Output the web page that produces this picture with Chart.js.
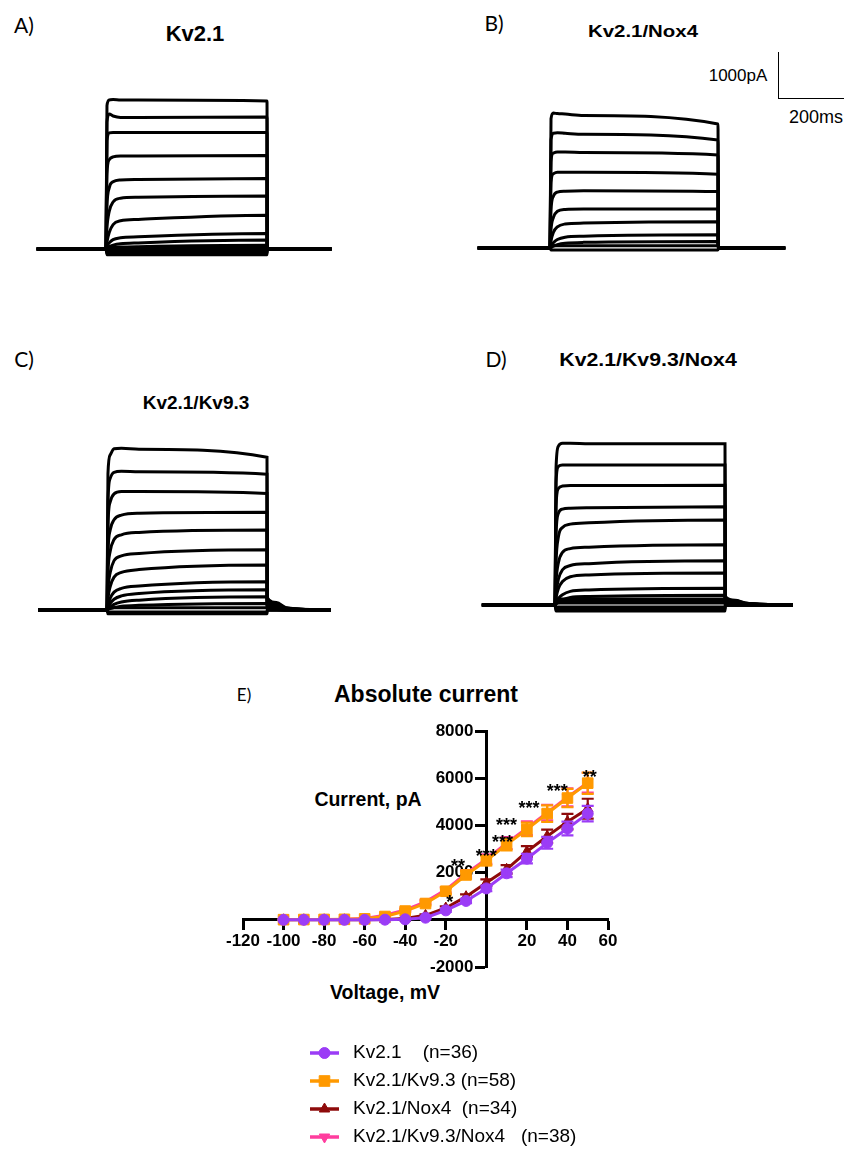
<!DOCTYPE html>
<html>
<head>
<meta charset="utf-8">
<title>Kv2.1 currents</title>
<script src="https://cdn.jsdelivr.net/npm/chart.js@4.4.1/dist/chart.umd.min.js"></script>
<style>
  html, body { margin: 0; padding: 0; background: #fff; }
  #fig { position: relative; width: 844px; height: 1149px; overflow: hidden;
         font-family: "Liberation Sans", Arial, sans-serif; color: #000; }
  #fig canvas { position: absolute; }
  .t { position: absolute; line-height: 1; white-space: pre; transform: translate(-50%, -50%); }
  .letter { font-family: Lato, "Open Sans", sans-serif; font-size: 21px; }
  .b { font-weight: bold; }
  #bar { position: absolute; left: 778px; top: 52px; width: 70px; height: 46px;
         border-left: 1.5px solid #000; border-bottom: 1.5px solid #000; }
</style>
</head>
<body>
<div id="fig">
  <div class="t letter" style="left:24px;top:24px">A)</div>
  <div class="t letter" style="left:494px;top:22px">B)</div>
  <div class="t letter" style="left:24px;top:358px">C)</div>
  <div class="t letter" style="left:496px;top:358px">D)</div>
  <div class="t letter" style="left:244px;top:694px;font-size:17px">E)</div>

  <div class="t b" style="left:195px;top:34px;font-size:22px">Kv2.1</div>
  <div class="t b" style="left:643px;top:31px;font-size:17px;transform:translate(-50%,-50%) scaleX(1.2)">Kv2.1/Nox4</div>
  <div class="t b" style="left:196px;top:402px;font-size:19px">Kv2.1/Kv9.3</div>
  <div class="t b" style="left:648px;top:359px;font-size:19px;transform:translate(-50%,-50%) scaleX(1.12)">Kv2.1/Kv9.3/Nox4</div>

  <div id="bar"></div>
  <div class="t" style="left:738px;top:75px;font-size:17px">1000pA</div>
  <div class="t" style="left:816px;top:117px;font-size:18px">200ms</div>

  <div class="t b" style="left:426px;top:694px;font-size:23px">Absolute current</div>
  <div class="t b" style="left:368px;top:800px;font-size:19.5px">Current, pA</div>
  <div class="t b" style="left:385px;top:993px;font-size:19.5px">Voltage, mV</div>
</div>

<script>
(function () {
    "use strict";

    // --- Data: example current traces ------------------------------------
    // Each trace is the current (pA) at the sample times below (ms).
    // Pulse runs from 200 to 700 ms; the last samples are the tail.
    const traceTimes = [-15, 200, 203, 210, 222, 245, 300, 700, 701, 730, 760, 900];

    const tracesA = [
        [0, 0, 3050, 3170, 3180, 3170, 3170, 3150, 0, 0, 0, 0],
        [0, 0, 2700, 2870, 2830, 2800, 2800, 2810, 0, 0, 0, 0],
        [0, 0, 2300, 2470, 2480, 2480, 2480, 2480, 0, 0, 0, 0],
        [0, 0, 1600, 1900, 1960, 1980, 1980, 1990, 0, 0, 0, 0],
        [0, 0, 900, 1300, 1430, 1470, 1480, 1500, 0, 0, 0, 0],
        [0, 0, 450, 800, 1000, 1080, 1100, 1130, 0, 0, 0, 0],
        [0, 0, 150, 350, 520, 600, 630, 720, 0, 0, 0, 0],
        [0, 0, 60, 130, 200, 240, 260, 330, 0, 0, 0, 0],
        [0, 0, 20, 50, 80, 110, 130, 190, 0, 0, 0, 0],
        [0, 0, 10, 20, 30, 40, 50, 80, 0, 0, 0, 0],
        [0, 0, 30, 30, 30, 30, 30, 30, 0, 0, 0, 0],
        [0, 0, -30, -30, -30, -30, -30, -30, 0, 0, 0, 0],
        [0, 0, -80, -80, -80, -80, -80, -80, 0, 0, 0, 0],
        [0, 0, -120, -120, -120, -120, -120, -120, 0, 0, 0, 0]
    ];

    const tracesB = [
        [0, 0, 2750, 2870, 2860, 2850, 2820, 2640, 0, 0, 0, 0],
        [0, 0, 2300, 2440, 2450, 2440, 2420, 2300, 0, 0, 0, 0],
        [0, 0, 1850, 2020, 2040, 2040, 2030, 1980, 0, 0, 0, 0],
        [0, 0, 1400, 1580, 1610, 1610, 1610, 1570, 0, 0, 0, 0],
        [0, 0, 800, 1100, 1190, 1210, 1220, 1200, 0, 0, 0, 0],
        [0, 0, 400, 650, 780, 820, 830, 830, 0, 0, 0, 0],
        [0, 0, 150, 330, 450, 510, 530, 560, 0, 0, 0, 0],
        [0, 0, 40, 110, 180, 230, 250, 280, 0, 0, 0, 0],
        [0, 0, 10, 40, 70, 100, 120, 140, 0, 0, 0, 0],
        [0, 0, 50, 50, 50, 50, 50, 50, 0, 0, 0, 0],
        [0, 0, -40, -40, -40, -40, -40, -40, 0, 0, 0, 0]
    ];

    const tracesC = [
        [0, 0, 2900, 3300, 3430, 3440, 3420, 3250, 260, 160, 50, 0],
        [0, 0, 2300, 2800, 2930, 2950, 2940, 2890, 230, 140, 45, 0],
        [0, 0, 1800, 2300, 2470, 2520, 2520, 2480, 200, 120, 40, 0],
        [0, 0, 1200, 1700, 1920, 2020, 2060, 2080, 170, 100, 30, 0],
        [0, 0, 800, 1250, 1500, 1600, 1650, 1700, 140, 80, 25, 0],
        [0, 0, 450, 800, 1050, 1150, 1200, 1280, 110, 60, 20, 0],
        [0, 0, 250, 500, 700, 800, 860, 960, 80, 45, 15, 0],
        [0, 0, 100, 250, 380, 460, 510, 600, 60, 30, 10, 0],
        [0, 0, 50, 140, 230, 300, 350, 430, 40, 20, 5, 0],
        [0, 0, 20, 60, 120, 170, 210, 280, 20, 10, 0, 0],
        [0, 0, 10, 30, 50, 80, 100, 140, 10, 5, 0, 0],
        [0, 0, 50, 50, 50, 50, 50, 50, 0, 0, 0, 0],
        [0, 0, -40, -40, -40, -40, -40, -40, 0, 0, 0, 0],
        [0, 0, -80, -80, -80, -80, -80, -80, 0, 0, 0, 0]
    ];

    const tracesD = [
        [0, 0, 2900, 3380, 3440, 3440, 3430, 3430, 180, 100, 45, 0],
        [0, 0, 2600, 2950, 2980, 2980, 2980, 2980, 160, 90, 40, 0],
        [0, 0, 2100, 2480, 2530, 2540, 2540, 2550, 140, 80, 35, 0],
        [0, 0, 1500, 1950, 2040, 2060, 2070, 2090, 120, 70, 30, 0],
        [0, 0, 900, 1450, 1650, 1720, 1750, 1810, 100, 60, 25, 0],
        [0, 0, 500, 900, 1120, 1200, 1230, 1280, 80, 45, 20, 0],
        [0, 0, 250, 550, 750, 840, 880, 940, 60, 35, 15, 0],
        [0, 0, 150, 350, 500, 600, 640, 680, 45, 25, 10, 0],
        [0, 0, 60, 140, 220, 290, 320, 355, 30, 15, 5, 0],
        [0, 0, 20, 60, 110, 160, 180, 210, 20, 10, 0, 0],
        [0, 0, 130, 130, 130, 130, 130, 130, 0, 0, 0, 0],
        [0, 0, 85, 85, 85, 85, 85, 85, 0, 0, 0, 0],
        [0, 0, 40, 40, 40, 40, 40, 40, 0, 0, 0, 0],
        [0, 0, -40, -40, -40, -40, -40, -40, 0, 0, 0, 0],
        [0, 0, -85, -85, -85, -85, -85, -85, 0, 0, 0, 0],
        [0, 0, -130, -130, -130, -130, -130, -130, 0, 0, 0, 0]
    ];

    // --- Data: current-voltage relation (mean, SEM; pA) -------------------
    const voltages = [-100, -90, -80, -70, -60, -50, -40, -30, -20, -10, 0, 10, 20, 30, 40, 50];

    const kv21      = [0, 0, 0, 0, 0, 5, 20, 90, 400, 800, 1330, 1970, 2590, 3260, 3870, 4500];
    const kv21Sem   = [5, 5, 5, 5, 5, 8, 15, 30, 60, 90, 120, 160, 200, 250, 290, 330];
    const kv93      = [5, 10, 15, 20, 40, 140, 370, 690, 1210, 1900, 2510, 3190, 3830, 4500, 5160, 5790];
    const kv93Sem   = [5, 5, 5, 8, 15, 30, 50, 80, 120, 150, 200, 250, 290, 350, 390, 450];
    const nox4      = [0, 0, 0, 0, 0, 10, 57, 190, 500, 980, 1570, 2140, 2890, 3540, 4160, 4710];
    const nox4Sem   = [5, 5, 5, 5, 5, 10, 20, 40, 70, 100, 140, 180, 230, 280, 330, 420];
    const kv93nox4    = [8, 12, 18, 25, 60, 190, 420, 760, 1270, 1960, 2570, 3250, 3880, 4540, 5190, 5810];
    const kv93nox4Sem = [5, 5, 5, 8, 15, 30, 50, 80, 120, 150, 200, 250, 290, 330, 380, 420];

    const seriesLabels = [
        "Kv2.1    (n=36)",
        "Kv2.1/Kv9.3 (n=58)",
        "Kv2.1/Nox4  (n=34)",
        "Kv2.1/Kv9.3/Nox4   (n=38)"
    ];

    // significance marks (mV, pA)
    const starText = ["**", "*", "***", "***", "***", "***", "***", "**"];
    const starV    = [-14, -18, 0, 8, 10, 21, 35, 51];
    const starI    = [2430, 940, 2880, 3480, 4200, 4900, 5620, 6230];

    // --- Helpers --------------------------------------------------------
    const FONT = '"Liberation Sans", Arial, sans-serif';
    Chart.defaults.font.family = FONT;
    Chart.defaults.color = "#000";

    const PA_PER_PX = 1000 / 47;   // 1000 pA scale bar is 47 px tall
    const fig = document.getElementById("fig");

    function makeCanvas(left, top, width, height) {
        const c = document.createElement("canvas");
        c.width = width;
        c.height = height;
        c.style.left = left + "px";
        c.style.top = top + "px";
        c.style.width = width + "px";
        c.style.height = height + "px";
        fig.appendChild(c);
        return c;
    }

    // --- Trace panels A-D ------------------------------------------------
    const panels = [
        { traces: tracesA, left: 25, top: 80,  width: 320, height: 195, onset: 106, offset: 267, base: 249 },
        { traces: tracesB, left: 468, top: 90, width: 330, height: 185, onset: 550, offset: 718, base: 248 },
        { traces: tracesC, left: 25, top: 430, width: 320, height: 205, onset: 107, offset: 267, base: 610 },
        { traces: tracesD, left: 468, top: 425, width: 335, height: 205, onset: 555, offset: 725, base: 605 }
    ];

    panels.forEach(function (p) {
        const pxPerMs = (p.offset - p.onset) / 500;
        const xMin = 200 - (p.onset - p.left) / pxPerMs;
        const xMax = xMin + p.width / pxPerMs;
        const yMax = (p.base - p.top) * PA_PER_PX;
        const yMin = -(p.top + p.height - p.base) * PA_PER_PX;

        new Chart(makeCanvas(p.left, p.top, p.width, p.height), {
            type: "line",
            data: {
                datasets: p.traces.map(tr => ({
                    data: traceTimes.map((t, i) => ({ x: t, y: tr[i] })),
                    borderColor: "#000",
                    borderWidth: 3,
                    pointRadius: 0,
                    cubicInterpolationMode: "monotone",
                    fill: false,
                    clip: false
                }))
            },
            options: {
                responsive: false,
                animation: false,
                events: [],
                layout: { padding: 0 },
                scales: {
                    x: { type: "linear", display: false, min: xMin, max: xMax },
                    y: { type: "linear", display: false, min: yMin, max: yMax }
                },
                plugins: { legend: { display: false }, tooltip: { enabled: false } }
            }
        });
    });

    // --- Panel E: I-V plot -----------------------------------------------
    const ivMeans = [kv21, kv93, nox4, kv93nox4];
    const ivSems  = [kv21Sem, kv93Sem, nox4Sem, kv93nox4Sem];
    const ivStyle = [
        { color: "#9b3cf6", point: "circle",   radius: 5.5, rot: 0 },
        { color: "#ff9900", point: "rect",     radius: 7.5, rot: 0 },
        { color: "#8e0b0b", point: "triangle", radius: 6,   rot: 0 },
        { color: "#ff3d9e", point: "triangle", radius: 6,   rot: 180 }
    ];

    const errorBars = {
        id: "errorBars",
        afterDatasetDraw(chart, args) {
            const i = args.index;
            const ctx = chart.ctx;
            const xs = chart.scales.x, ys = chart.scales.y;
            ctx.save();
            ctx.strokeStyle = ivStyle[i].color;
            ctx.lineWidth = 2.2;
            voltages.forEach((v, k) => {
                const s = ivSems[i][k];
                const m = ivMeans[i][k];
                const px = xs.getPixelForValue(v);
                const yTop = ys.getPixelForValue(m + s);
                const yBot = ys.getPixelForValue(m - s);
                ctx.beginPath();
                ctx.moveTo(px, yTop); ctx.lineTo(px, yBot);
                ctx.moveTo(px - 6, yTop); ctx.lineTo(px + 6, yTop);
                ctx.moveTo(px - 6, yBot); ctx.lineTo(px + 6, yBot);
                ctx.stroke();
            });
            ctx.restore();
        }
    };

    const stars = {
        id: "stars",
        afterDraw(chart) {
            const ctx = chart.ctx;
            ctx.save();
            ctx.font = "bold 18px " + FONT;
            ctx.fillStyle = "#000";
            ctx.textAlign = "center";
            ctx.textBaseline = "alphabetic";
            starText.forEach((s, k) => {
                const px = chart.scales.x.getPixelForValue(starV[k]);
                const py = chart.scales.y.getPixelForValue(starI[k]);
                ctx.fillText(s, px, py + 10);
            });
            ctx.restore();
        }
    };

    const ivLegend = {
        id: "ivLegend",
        afterDraw(chart, args, opts) {
            const ctx = chart.ctx;
            ctx.save();
            chart.data.datasets.forEach((ds, i) => {
                const y = opts.top + i * opts.gap;
                ctx.strokeStyle = ds.borderColor;
                ctx.lineWidth = 3.5;
                ctx.beginPath();
                ctx.moveTo(opts.x0, y);
                ctx.lineTo(opts.x1, y);
                ctx.stroke();
                ctx.fillStyle = ds.pointBackgroundColor;
                ctx.lineWidth = 1;
                Chart.helpers.drawPoint(ctx, {
                    pointStyle: ds.pointStyle,
                    radius: ds.pointRadius,
                    rotation: ds.pointRotation,
                    borderWidth: 1
                }, (opts.x0 + opts.x1) / 2, y);
                ctx.fillStyle = "#000";
                ctx.font = "19px " + FONT;
                ctx.textAlign = "left";
                ctx.textBaseline = "middle";
                ctx.fillText(ds.label, opts.textX, y);
            });
            ctx.restore();
        }
    };

    const tickFont = { family: FONT, size: 17, weight: "bold" };

    new Chart(makeCanvas(200, 700, 450, 449), {
        type: "line",
        data: {
            datasets: ivMeans.map((vals, i) => ({
                label: seriesLabels[i],
                data: voltages.map((v, k) => ({ x: v, y: vals[k] })),
                borderColor: ivStyle[i].color,
                backgroundColor: ivStyle[i].color,
                pointBackgroundColor: ivStyle[i].color,
                pointBorderColor: ivStyle[i].color,
                pointStyle: ivStyle[i].point,
                pointRadius: ivStyle[i].radius,
                pointRotation: ivStyle[i].rot,
                pointBorderWidth: 1,
                borderWidth: 3,
                tension: 0,
                fill: false
            }))
        },
        options: {
            responsive: false,
            animation: false,
            events: [],
            layout: { padding: { left: 43, right: 42, top: 31, bottom: 182 } },
            scales: {
                x: {
                    type: "linear",
                    min: -120,
                    max: 60,
                    position: { y: 0 },
                    afterFit: s => { s.height = 0; },
                    ticks: {
                        stepSize: 20,
                        autoSkip: false,
                        maxRotation: 0,
                        padding: 2,
                        font: tickFont,
                        color: "#000",
                        callback: v => (v === 0 ? "" : v)
                    },
                    grid: { drawOnChartArea: false, drawTicks: true, tickLength: 9, tickWidth: 3, tickColor: "#000" },
                    border: { display: true, color: "#000", width: 3 }
                },
                y: {
                    type: "linear",
                    min: -2000,
                    max: 8000,
                    position: { x: 0 },
                    afterFit: s => { s.width = 0; },
                    ticks: {
                        stepSize: 2000,
                        font: tickFont,
                        color: "#000",
                        // a centred y axis puts labels flush with the axis line;
                        // trailing spaces leave room for the tick marks
                        callback: v => (v === 0 ? "" : v + "  \u2009")
                    },
                    grid: { drawOnChartArea: false, drawTicks: true, tickLength: 10, tickWidth: 3, tickColor: "#000" },
                    border: { display: true, color: "#000", width: 3 }
                }
            },
            plugins: {
                legend: { display: false },
                tooltip: { enabled: false },
                ivLegend: { x0: 110, x1: 139, textX: 153, top: 353, gap: 28 }
            }
        },
        plugins: [errorBars, stars, ivLegend]
    });
})();
</script>
</body>
</html>
